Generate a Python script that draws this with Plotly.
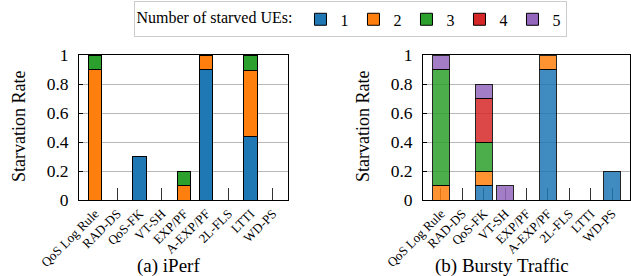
import plotly.graph_objects as go

categories = ["QoS Log Rule", "RAD-DS", "QoS-FK", "VT-SH", "EXP/PF",
              "A-EXP/PF", "2L-FLS", "LTTI", "WD-PS"]
ue_labels = ["1", "2", "3", "4", "5"]

# (a) iPerf: starvation rate contributions per number of starved UEs
iperf_1 = [0, 0, 0.3, 0, 0, 0.9, 0, 0.44, 0]
iperf_2 = [0.9, 0, 0, 0, 0.1, 0.1, 0, 0.45, 0]
iperf_3 = [0.1, 0, 0, 0, 0.1, 0, 0, 0.11, 0]
iperf_4 = [0, 0, 0, 0, 0, 0, 0, 0, 0]
iperf_5 = [0, 0, 0, 0, 0, 0, 0, 0, 0]

# (b) Bursty traffic
bursty_1 = [0, 0, 0.1, 0, 0, 0.9, 0, 0, 0.2]
bursty_2 = [0.1, 0, 0.1, 0, 0, 0.1, 0, 0, 0]
bursty_3 = [0.8, 0, 0.2, 0, 0, 0, 0, 0, 0]
bursty_4 = [0, 0, 0.3, 0, 0, 0, 0, 0, 0]
bursty_5 = [0.1, 0, 0.1, 0.1, 0, 0, 0, 0, 0]

colors = ["#1f77b4", "#ff7f0e", "#2ca02c", "#d62728", "#9467bd"]

iperf = [iperf_1, iperf_2, iperf_3, iperf_4, iperf_5]
bursty = [bursty_1, bursty_2, bursty_3, bursty_4, bursty_5]

FONT = "Liberation Serif, Times New Roman, serif"

def nz(v):
    return [x if x != 0 else None for x in v]

fig = go.Figure()
for i, lab in enumerate(ue_labels):
    fig.add_trace(go.Bar(
        x=categories, y=nz(iperf[i]), name=lab, xaxis="x", yaxis="y",
        marker=dict(color=colors[i], line=dict(color="black", width=1)),
        width=0.6, legendrank=i + 1, showlegend=True))
for i, lab in enumerate(ue_labels):
    fig.add_trace(go.Bar(
        x=categories, y=nz(bursty[i]), name=lab, xaxis="x2", yaxis="y2",
        marker=dict(color=colors[i], opacity=0.85, line=dict(color="black", width=1)),
        width=0.78, showlegend=False))

yd = [1 - 200 / 276, 1 - 55 / 276]
xcommon = dict(
    type="category", showline=True, linecolor="black", linewidth=1, mirror=True,
    ticks="inside", ticklen=12, tickcolor="#333", tickwidth=1, tickangle=-45,
    tickfont=dict(family=FONT, size=13, color="black"), showgrid=False,
    layer="below traces", automargin=False)
ycommon = dict(
    range=[0, 1], dtick=0.2, showline=True, linecolor="black", linewidth=1,
    mirror=True, ticks="inside", ticklen=4, tickcolor="black",
    showgrid=True, gridcolor="#b8b8b8", gridwidth=1, zeroline=False,
    tickfont=dict(family=FONT, size=17.5, color="black"), ticklabelstandoff=6,
    automargin=False)

fig.update_layout(
    width=631, height=276,
    margin=dict(l=0, r=0, t=0, b=0, pad=0, autoexpand=False),
    paper_bgcolor="white", plot_bgcolor="white",
    barmode="stack",
    font=dict(family=FONT, color="black"),
    xaxis=dict(domain=[79 / 631, 288 / 631], range=[-0.72, 8.68], anchor="y", **xcommon),
    yaxis=dict(domain=yd, anchor="x", **ycommon),
    xaxis2=dict(domain=[423 / 631, 630 / 631], range=[-0.84, 8.84], anchor="y2", **xcommon),
    yaxis2=dict(domain=yd, anchor="x2", **ycommon),
    legend=dict(
        orientation="h", x=350 / 631, xanchor="center", y=0.995, yanchor="top",
        title=dict(text="Number of starved UEs:", font=dict(family=FONT, size=16)),
        font=dict(family=FONT, size=16), bordercolor="#cccccc", borderwidth=1,
        bgcolor="white", traceorder="normal", itemwidth=30),
    annotations=[
        dict(text="Starvation Rate", x=19 / 631, y=1 - 127 / 276, xref="paper", yref="paper",
             textangle=-90, showarrow=False, font=dict(family=FONT, size=18),
             xanchor="center", yanchor="middle"),
        dict(text="Starvation Rate", x=363 / 631, y=1 - 127 / 276, xref="paper", yref="paper",
             textangle=-90, showarrow=False, font=dict(family=FONT, size=18),
             xanchor="center", yanchor="middle"),
        dict(text="(a) iPerf", x=168 / 631, y=1 - 266 / 276, xref="paper", yref="paper",
             showarrow=False, font=dict(family=FONT, size=19),
             xanchor="center", yanchor="middle"),
        dict(text="(b) Bursty Traffic", x=502 / 631, y=1 - 266 / 276, xref="paper", yref="paper",
             showarrow=False, font=dict(family=FONT, size=19),
             xanchor="center", yanchor="middle"),
    ],
)

fig.write_html(
    "out.html",
    config={"displayModeBar": False},
    post_script="document.body.style.margin='0';document.body.style.overflow='hidden';",
)
